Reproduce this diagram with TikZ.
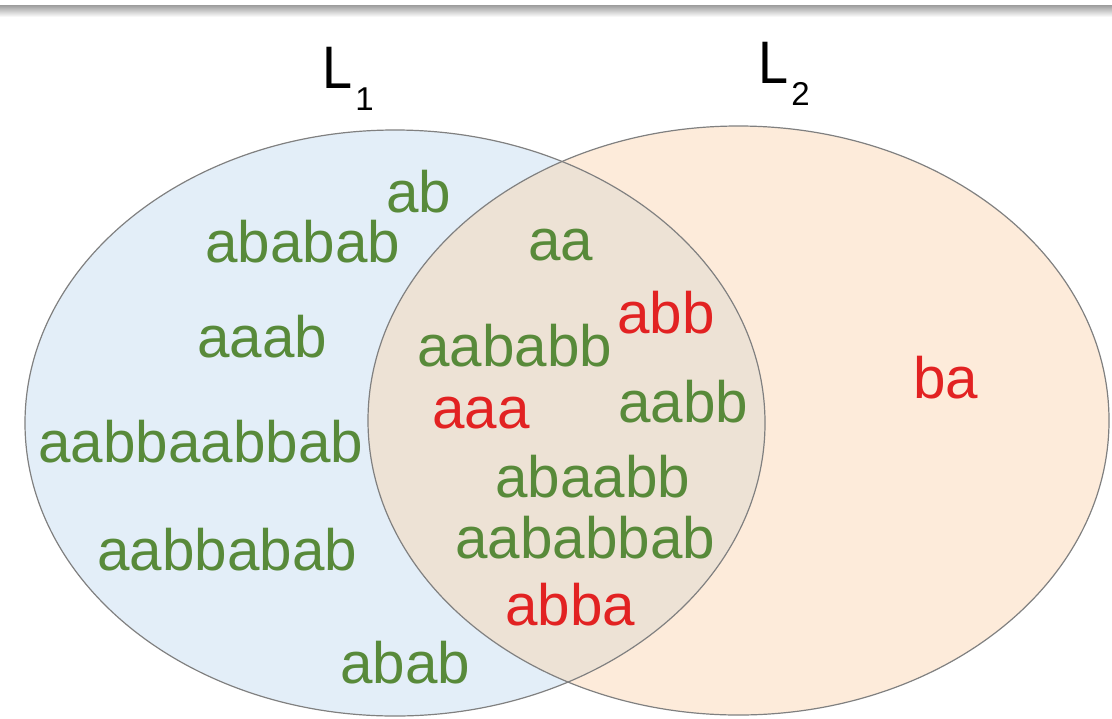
\documentclass[tikz,border=0pt]{standalone}
\usepackage{fontspec}
\setmainfont{Liberation Sans}
\definecolor{setblue}{HTML}{E3EEF8}
\definecolor{setorange}{HTML}{FDEBDA}
\definecolor{setboth}{HTML}{EDE2D5}
\definecolor{wordgreen}{HTML}{588A3A}
\definecolor{wordred}{HTML}{E22222}
\definecolor{rimgrey}{HTML}{808080}
\definecolor{bargrey}{HTML}{9C9C9C}
\begin{document}
\begin{tikzpicture}[x=0.5pt,y=-0.5pt,
  word/.style={inner sep=0pt, anchor=base west, font=\fontsize{29.2}{35}\selectfont},
  good/.style={word, text=wordgreen},
  bad/.style={word, text=wordred},
  setlabel/.style={inner sep=0pt, anchor=base west, font=\fontsize{30}{36}\selectfont},
  rim/.style={draw=rimgrey, line width=0.6pt}]
\useasboundingbox (0,0) rectangle (1112,718);
% top bar
\shade[top color=bargrey, bottom color=white] (0,5) rectangle (1112,17);
% sets
\fill[setblue] (395,423) ellipse [x radius=185pt, y radius=146.5pt];
\fill[setorange] (738.5,420.5) ellipse [x radius=185.25pt, y radius=147.25pt];
\begin{scope}
  \clip (395,423) ellipse [x radius=185pt, y radius=146.5pt];
  \fill[setboth] (738.5,420.5) ellipse [x radius=185.25pt, y radius=147.25pt];
\end{scope}
\draw[rim] (395,423) ellipse [x radius=185pt, y radius=146.5pt];
\draw[rim] (738.5,420.5) ellipse [x radius=185.25pt, y radius=147.25pt];
% labels
\node[setlabel] (lone) at (322,88) {\scalebox{0.9}[1]{L}\kern1.5pt\raisebox{-11pt}{\fontsize{16.5}{20}\selectfont 1}};
\node[setlabel] (ltwo) at (758,83) {\scalebox{0.9}[1]{L}\kern1.5pt\raisebox{-11pt}{\fontsize{16.5}{20}\selectfont 2}};
% words
\node[good] (w1) at (386,212) {ab};
\node[good] (w2) at (205,262) {ababab};
\node[good] (w3) at (528,260) {aa};
\node[good] (w4) at (197,357) {aaab};
\node[bad]  (w5) at (617,333) {abb};
\node[good] (w6) at (417,366) {aababb};
\node[bad]  (w7) at (432,428) {aaa};
\node[good] (w8) at (618,422) {aabb};
\node[good] (w9) at (38,462) {aabbaabbab};
\node[good] (w10) at (495,497) {abaabb};
\node[good] (w11) at (97,570) {aabbabab};
\node[good] (w12) at (455,558) {aababbab};
\node[bad]  (w13) at (505,625) {abba};
\node[good] (w14) at (340,683) {abab};
\node[bad]  (w15) at (913,398) {ba};
\end{tikzpicture}
\end{document}
